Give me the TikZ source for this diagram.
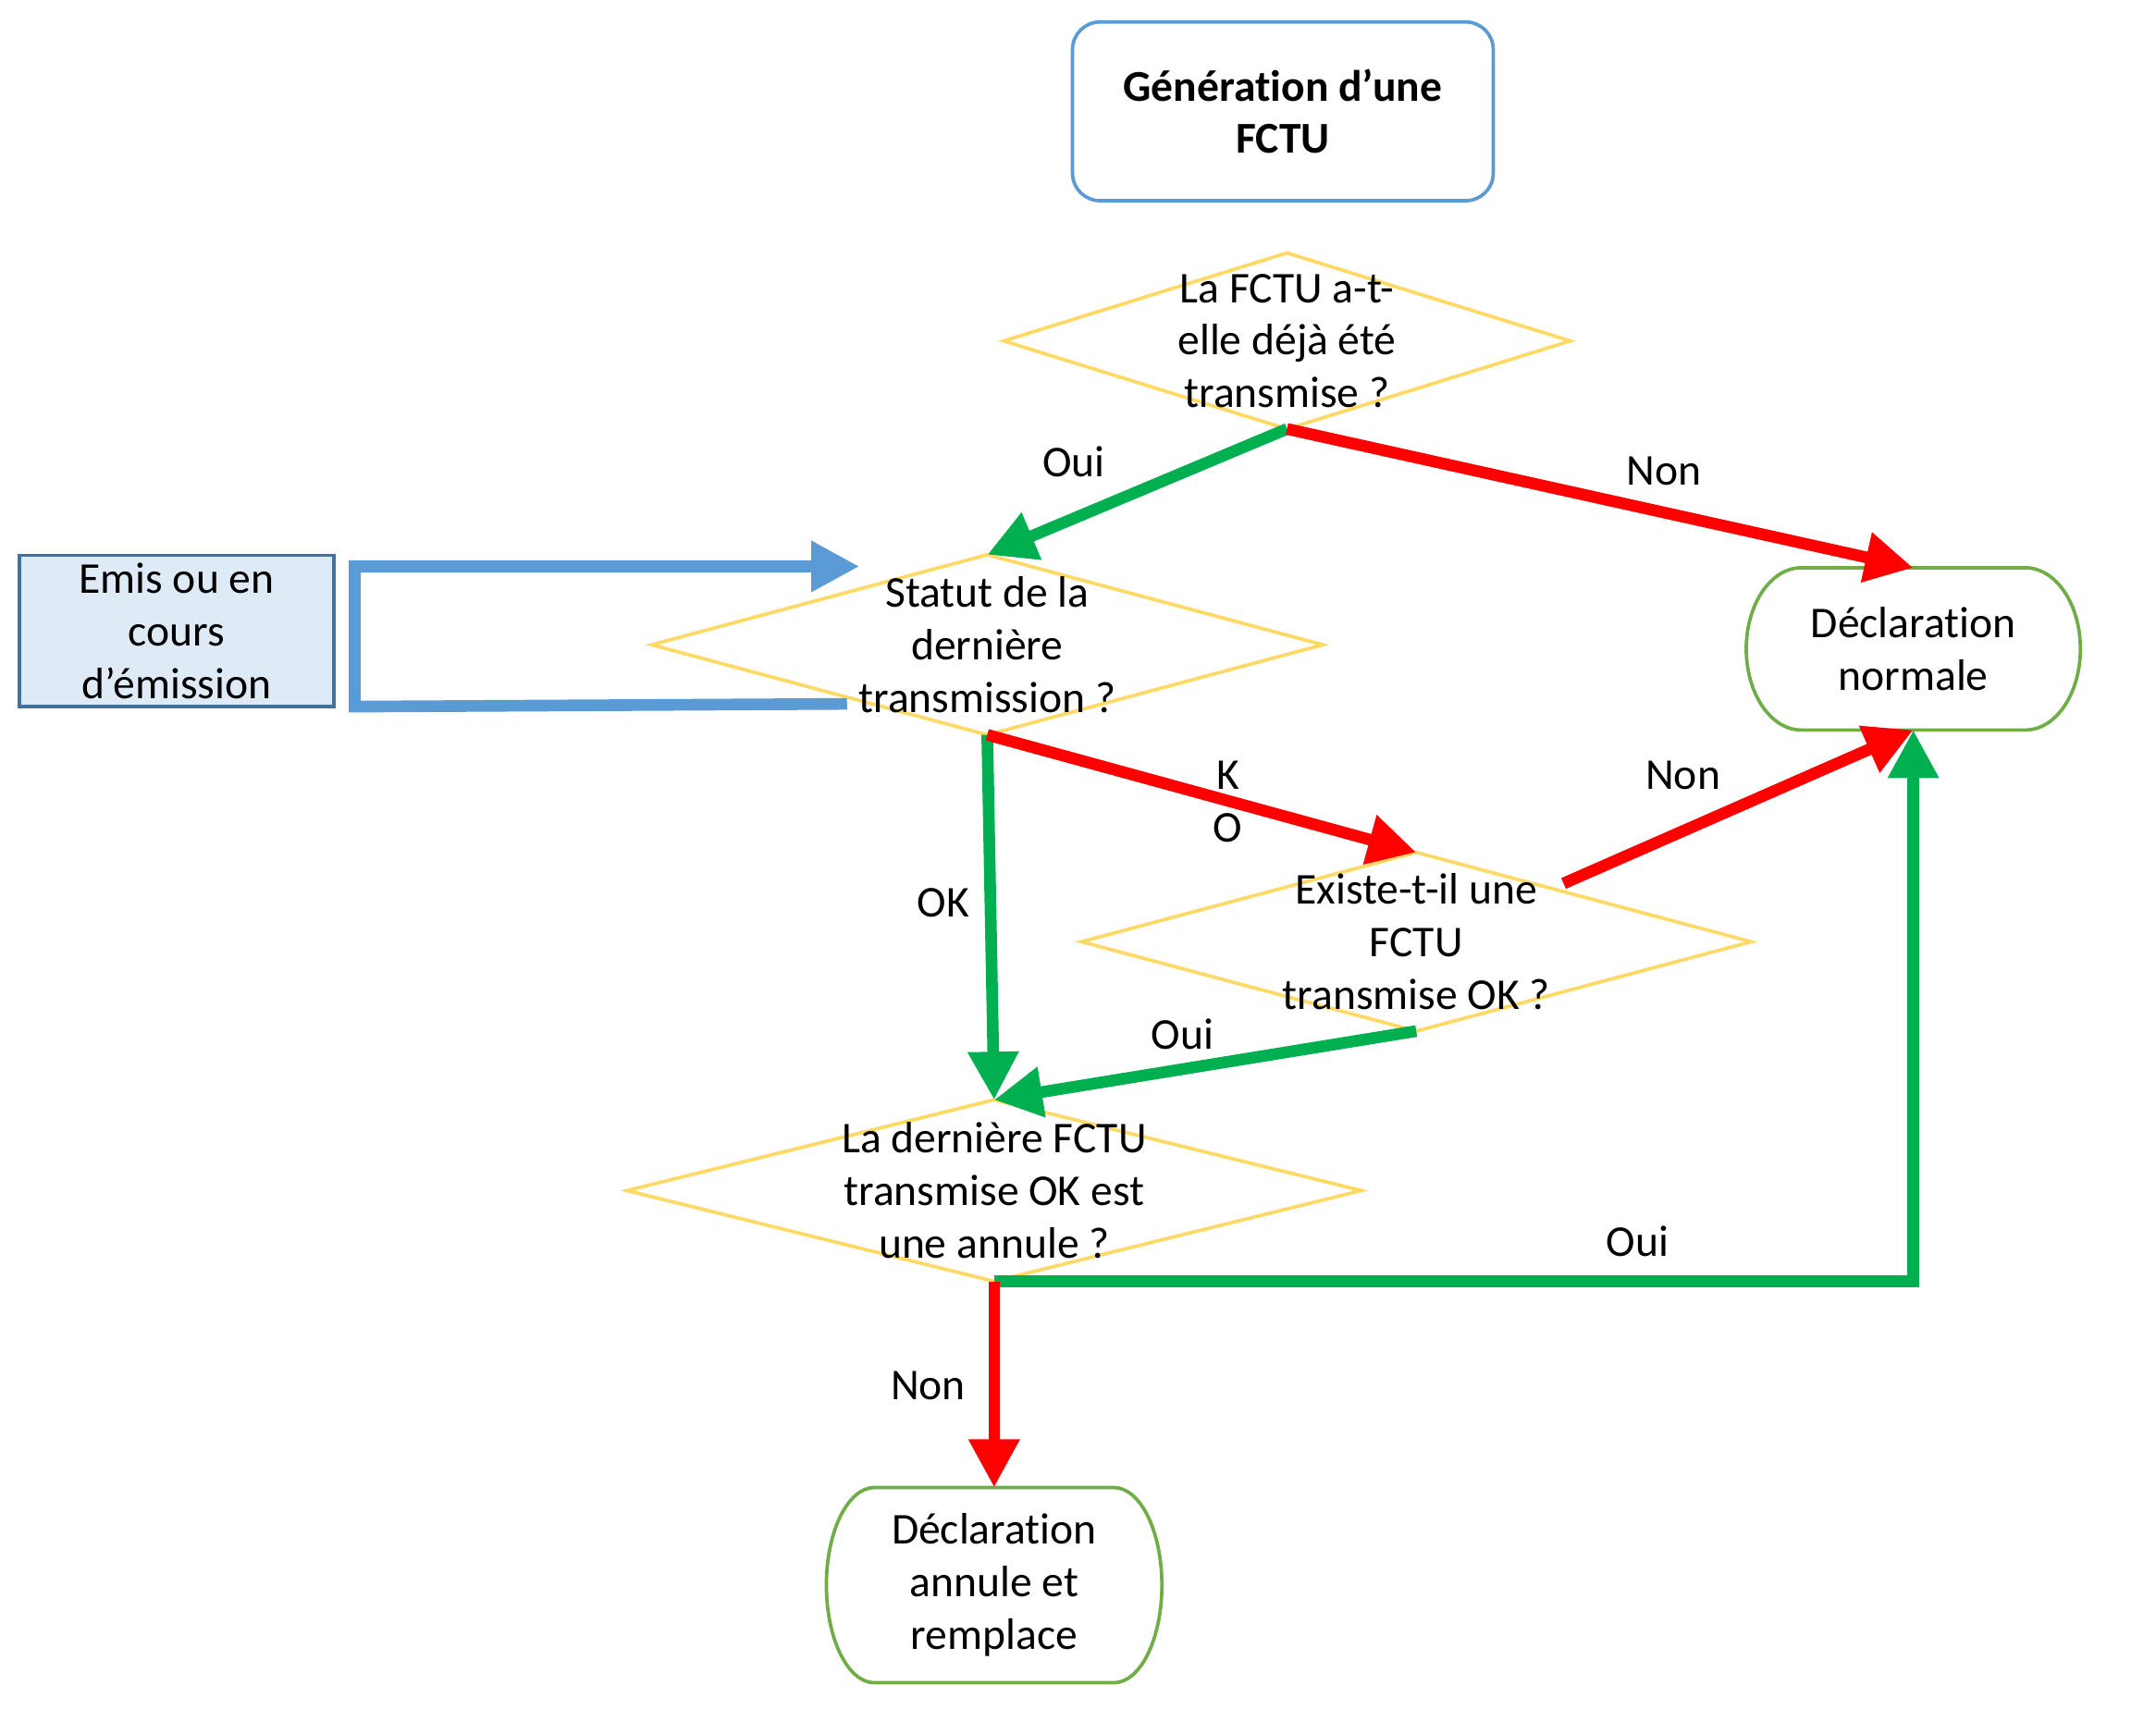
\documentclass[tikz,border=0pt]{standalone}
\usepackage{fontspec}
\setmainfont{Carlito}[Ligatures=NoCommon]
\usepackage{xcolor}
\usepackage{tikz}
\usetikzlibrary{shapes.geometric,arrows.meta,calc}

\definecolor{titleblue}{HTML}{5B9BD5}
\definecolor{askyellow}{HTML}{FFD966}
\definecolor{emisfill}{HTML}{DEEBF7}
\definecolor{emisdraw}{HTML}{41719C}
\definecolor{termgreen}{HTML}{70AD47}
\definecolor{yesgreen}{HTML}{00B050}
\definecolor{nored}{HTML}{FF0000}

\begin{document}
\begin{tikzpicture}[
    x=0.4pt, y=-0.4pt,
    >={Triangle[length=14pt,width=14pt]},
    font=\fontsize{12.8}{15.3}\selectfont,
    decision/.style={diamond, draw=askyellow, line width=1pt, inner sep=0pt, outer sep=0pt},
    asktext/.style={align=center, inner sep=0pt},
    terminal/.style={rectangle, align=center, inner sep=0pt, outer sep=0pt},
    termline/.style={draw=termgreen, line width=1pt},
    yes/.style={->, draw=yesgreen, line width=3.4pt},
    no/.style={->, draw=nored, line width=3.4pt},
    loop/.style={->, draw=titleblue, line width=3.4pt},
    lbl/.style={inner sep=0pt}
]
    \path[use as bounding box, fill=white] (0,0) rectangle (1568,1243);

    % start
    \node[draw=titleblue, line width=1pt, rounded corners=8pt, align=center,
          minimum width=122.4pt, minimum height=52pt,
          font=\fontsize{12.8}{15.3}\selectfont\bfseries] (title) at (933,81)
          {Génération d’une\\FCTU};

    % decisions
    \node[decision, minimum width=164.8pt, minimum height=51.2pt] (known)  at (936,248) {};
    \node[asktext] (knowntxt) at (known) {La FCTU a-t-\\elle déjà été\\transmise ?};
    \node[decision, minimum width=195.2pt, minimum height=52.4pt] (status) at (718,469) {};
    \node[asktext] (statustxt) at (status) {Statut de la\\dernière\\transmission ?};
    \node[decision, minimum width=194.8pt, minimum height=52pt] (exists) at (1030,685) {};
    \node[asktext] (existstxt) at (exists) {Existe-t-il une\\FCTU\\transmise OK ?};
    \node[decision, minimum width=213.6pt, minimum height=52.8pt] (annul)  at (723,866) {};
    \node[asktext] (annultxt) at (annul) {La dernière FCTU\\transmise OK est\\une annule ?};

    % side box of the loop
    \node[draw=emisdraw, fill=emisfill, line width=1pt, align=center, inner sep=0pt,
          minimum width=91.6pt, minimum height=44pt] (emis) at (128.5,459)
          {Emis ou en\\cours\\d’émission};

    % end states
    \node[terminal, minimum width=97.2pt, minimum height=47.2pt] (normal)  at (1391.5,472)
          {Déclaration\\normale};
    \node[terminal, minimum width=97.6pt, minimum height=56.8pt] (replace) at (723,1153)
          {Déclaration\\annule et\\remplace};
    \draw[termline] ([xshift=16pt]normal.north west) -- ([xshift=-16pt]normal.north east)
        arc[start angle=90, end angle=-90, x radius=16pt, y radius=23.6pt]
        -- ([xshift=16pt]normal.south west)
        arc[start angle=270, end angle=90, x radius=16pt, y radius=23.6pt] -- cycle;
    \draw[termline] ([xshift=14pt]replace.north west) -- ([xshift=-14pt]replace.north east)
        arc[start angle=90, end angle=-90, x radius=14pt, y radius=28.4pt]
        -- ([xshift=14pt]replace.south west)
        arc[start angle=270, end angle=90, x radius=14pt, y radius=28.4pt] -- cycle;

    % connectors
    \coordinate (loopout) at (616,512);
    \coordinate (loopin)  at (625,412);
    \draw[loop] (loopout) -- (258,514) -- (258,412) -- (loopin);

    \draw[yes] (known.south) -- (status.north);
    \draw[no]  (known.south) -- (normal.north);
    \draw[yes] (status.south) -- (annul.north);
    \draw[no]  (status.south) -- (exists.north);
    \draw[no]  ($(exists.north)!0.44!(exists.east)+(0,-6)$) -- (normal.south);
    \draw[yes] (exists.south) -- (annul.north);
    \draw[yes] (annul.south) -| (normal.south);
    \draw[no]  (annul.south) -- (replace.north);

    % labels
    \node[lbl] (ouiA) at (781,336)  {Oui};
    \node[lbl] (nonA) at (1210,343) {Non};
    \node[lbl, align=center] (ko) at (893,583) {K\\O};
    \node[lbl] (nonB) at (1224,564) {Non};
    \node[lbl] (okA)  at (686,657)  {OK};
    \node[lbl] (ouiB) at (860,752)  {Oui};
    \node[lbl] (ouiC) at (1191,903) {Oui};
    \node[lbl] (nonC) at (675,1008) {Non};
\end{tikzpicture}
\end{document}
